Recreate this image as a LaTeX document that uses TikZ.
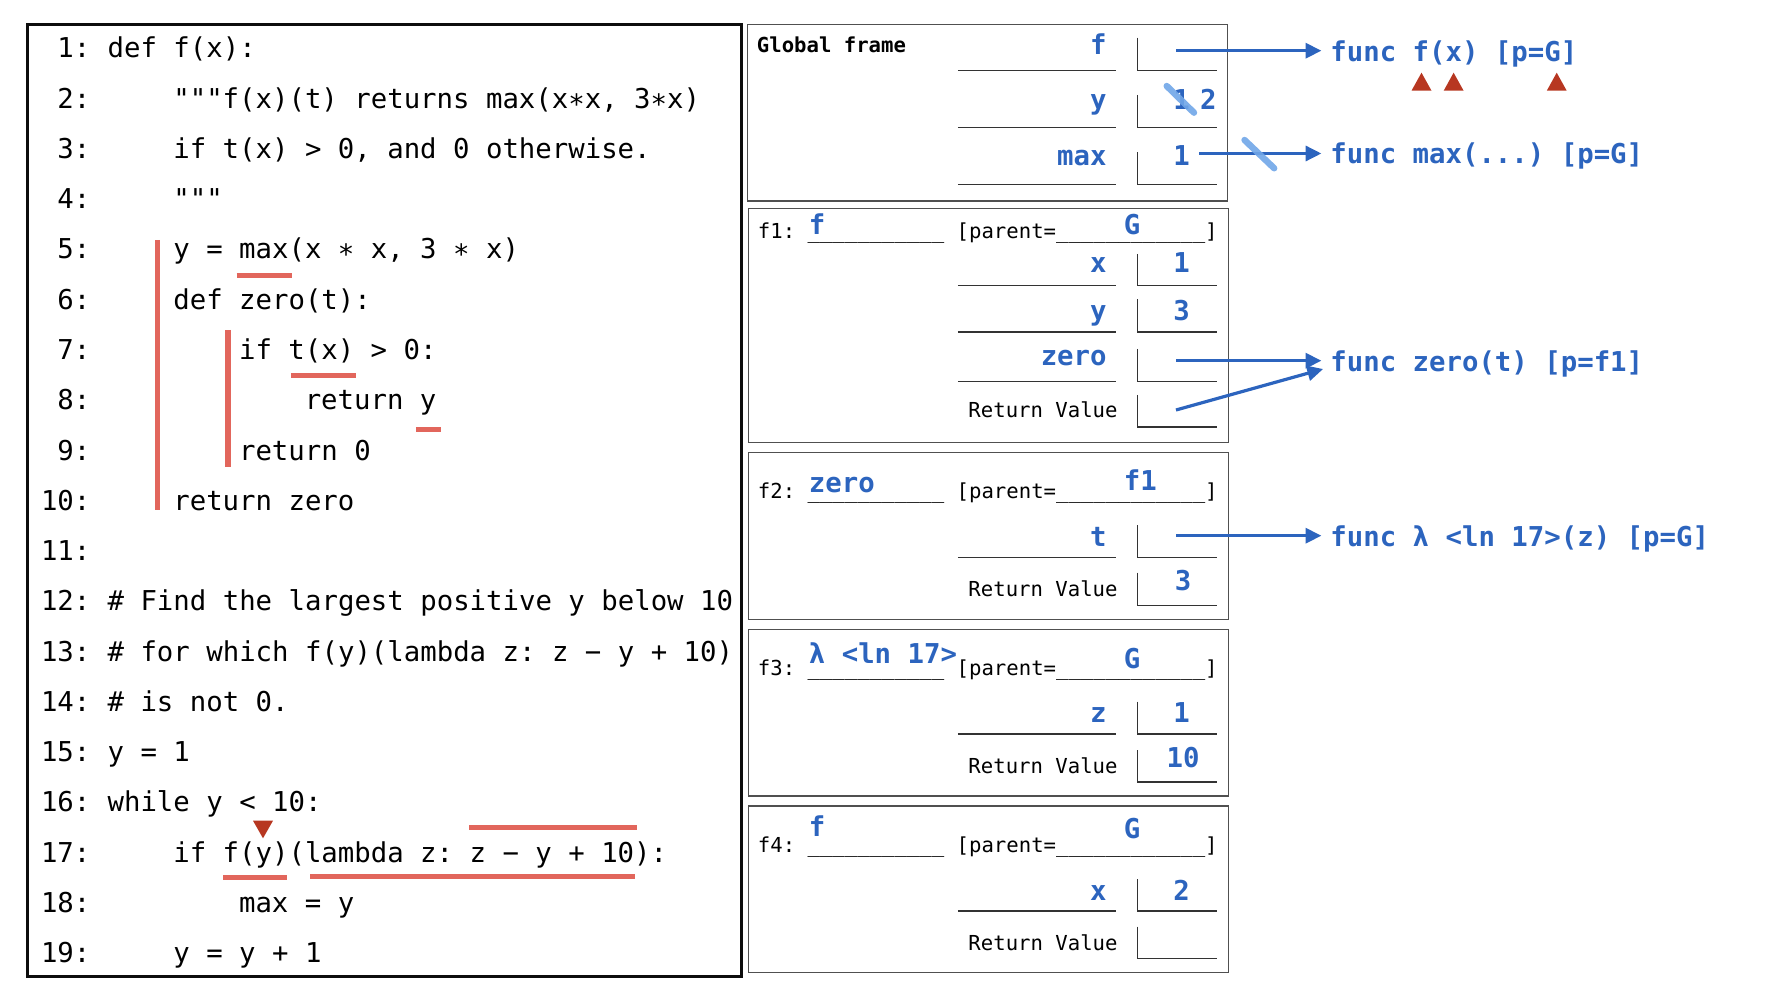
\documentclass[tikz,border=0pt]{standalone}
\usepackage{fontspec}
\usetikzlibrary{arrows.meta}
\newfontfamily\codefont{DejaVu Sans Mono}
\definecolor{codeblue}{RGB}{44,100,190}
\definecolor{markred}{RGB}{226,102,92}
\definecolor{tipred}{RGB}{183,55,33}
\definecolor{scratchblue}{RGB}{112,166,232}
\definecolor{framegray}{RGB}{80,80,80}
\newcommand\cdsize{\fontsize{13.67}{16}\selectfont}
\newcommand\smsize{\fontsize{10.32}{12}\selectfont}
\tikzset{
  lno/.style={anchor=base east, inner sep=0pt, font=\codefont\cdsize},
  code/.style={anchor=base west, inner sep=0pt, font=\codefont\cdsize},
  nm/.style={anchor=base east, inner sep=0pt, font=\codefont\cdsize\bfseries, text=codeblue},
  val/.style={anchor=base, inner sep=0pt, font=\codefont\cdsize\bfseries, text=codeblue},
  ttl/.style={anchor=base west, inner sep=0pt, font=\codefont\smsize},
  rvl/.style={anchor=base east, inner sep=0pt, font=\codefont\smsize},
  btl/.style={anchor=base west, inner sep=0pt, font=\codefont\cdsize\bfseries, text=codeblue},
  fnl/.style={anchor=base west, inner sep=0pt, font=\codefont\cdsize\bfseries, text=codeblue},
  frm/.style={draw=framegray, line width=0.65pt},
  rule/.style={draw=black!80, line width=0.55pt},
  ptr/.style={draw=codeblue, line width=1.6pt, -{Triangle[length=7.9pt,width=7.5pt]}},
  redstroke/.style={draw=markred, line width=2.7pt},
  scratch/.style={draw=scratchblue, line width=3.2pt, line cap=round, opacity=0.9},
  tri/.style={fill=tipred, draw=none},
}
% one line of source code: number, column, text
\newcommand\cl[3]{%
  \node[lno] (n#1) at (90.8,{58+(#1-1)*50.25}) {#1:};
  \node[code] (c#1) at ({41.5+#2*16.43},{58+(#1-1)*50.25}) {#3};}
% one binding row: id, name baseline, rule y, box top, name, value
\newcommand\bindrow[6]{%
  \node[nm] (#1n) at (1107,#2) {#5};
  \draw[rule] (957.8,#3) -- (1116.2,#3);
  \draw[rule] (1137.2,#4) -- (1137.2,#3) -- (1217.2,#3);
  \node[val] (#1v) at (1181.7,#2) {#6};}
% return value row: id, label baseline, value baseline, box top, box bottom, value
\newcommand\retrow[6]{%
  \node[rvl] (#1n) at (1118,#2) {Return Value};
  \draw[rule] (1137.2,#4) -- (1137.2,#5) -- (1217.2,#5);
  \node[val] (#1v) at (1183,#3) {#6};}
\begin{document}
\frenchspacing
\begin{tikzpicture}[x=0.5pt,y=-0.5pt]
\useasboundingbox (0,0) rectangle (1768,1000);

% ---------- source code panel ----------
\draw[line width=1.5pt, draw=black!95] (27.6,24.3) rectangle (741.6,976);
\cl{1}{4}{def f(x):}
\cl{2}{8}{"""f(x)(t) returns max(x∗x, 3∗x)}
\cl{3}{8}{if t(x) > 0, and 0 otherwise.}
\cl{4}{8}{"""}
\cl{5}{8}{y = max(x ∗ x, 3 ∗ x)}
\cl{6}{8}{def zero(t):}
\cl{7}{12}{if t(x) > 0:}
\cl{8}{16}{return y}
\cl{9}{12}{return 0}
\cl{10}{8}{return zero}
\cl{11}{4}{}
\cl{12}{4}{\# Find the largest positive y below 10}
\cl{13}{4}{\# for which f(y)(lambda z: z − y + 10)}
\cl{14}{4}{\# is not 0.}
\cl{15}{4}{y = 1}
\cl{16}{4}{while y < 10:}
\cl{17}{8}{if f(y)(lambda z: z − y + 10):}
\cl{18}{12}{max = y}
\cl{19}{8}{y = y + 1}

% hand-drawn marks on the code
\draw[redstroke] (157.5,240) -- (157.5,510);
\draw[redstroke] (227.8,330) -- (227.8,466.7);
\draw[redstroke] (236.5,275.3) -- (292.3,275.3);
\draw[redstroke] (290.8,375.7) -- (356.3,375.7);
\draw[redstroke] (415.9,429.3) -- (441.1,429.3);
\draw[redstroke] (223,877.7) -- (287.4,877.7);
\draw[redstroke] (310.2,876.7) -- (635,876.7);
\draw[redstroke] (469.2,827.7) -- (636.5,827.7);
\fill[tri] (253,820.7) -- (273,820.7) -- (263,838.3) -- cycle;

% ---------- global frame ----------
\draw[frm] (747.3,24.3) rectangle (1227.3,201);
\node[ttl, font=\codefont\smsize\bfseries] (gt) at (756.5,52.7) {Global frame};
\bindrow{gf}{55}{70.7}{37.7}{f}{}
\bindrow{gy}{109.3}{127.7}{95}{y}{1}
\node[val] (gy2) at (1208.3,109.3) {2};
\bindrow{gm}{165.7}{184.3}{152.3}{max}{1}

% ---------- f1 ----------
\draw[frm] (748.3,208.3) rectangle (1228.7,442.7);
\node[ttl] (at) at (757.5,238.3) {f1: \_\_\_\_\_\_\_\_\_\_\_ [parent=\_\_\_\_\_\_\_\_\_\_\_\_]};
\node[btl] (atn) at (808.5,235) {f};
\node[btl] (atp) at (1123.5,235) {G};
\bindrow{ax}{272.7}{285.3}{254}{x}{1}
\bindrow{ay}{320.7}{332}{299.3}{y}{3}
\bindrow{az}{365}{381.7}{349}{zero}{}
\retrow{ar}{417.7}{417.7}{395}{427}{}

% ---------- f2 ----------
\draw[frm] (748.3,452.7) rectangle (1228.7,619.3);
\node[ttl] (bt) at (757.5,498.3) {f2: \_\_\_\_\_\_\_\_\_\_\_ [parent=\_\_\_\_\_\_\_\_\_\_\_\_]};
\node[btl] (btn) at (808.5,492.3) {zero};
\node[btl] (btp) at (1123.5,490.7) {f1};
\bindrow{bt}{546.7}{557.3}{525}{t}{}
\retrow{br}{596.7}{590}{572.7}{605.3}{3}

% ---------- f3 ----------
\draw[frm] (748.3,629.3) rectangle (1228.7,796);
\node[ttl] (ct) at (757.5,675) {f3: \_\_\_\_\_\_\_\_\_\_\_ [parent=\_\_\_\_\_\_\_\_\_\_\_\_]};
\node[btl] (ctn) at (808.5,663.3) {λ <ln 17>};
\node[btl] (ctp) at (1123.5,668.3) {G};
\bindrow{cz}{722.7}{734}{701.7}{z}{1}
\retrow{cr}{773.3}{767.7}{750}{782}{10}

% ---------- f4 ----------
\draw[frm] (748.3,806) rectangle (1228.7,972.7);
\node[ttl] (dt) at (757.5,852.7) {f4: \_\_\_\_\_\_\_\_\_\_\_ [parent=\_\_\_\_\_\_\_\_\_\_\_\_]};
\node[btl] (dtn) at (808.5,836.7) {f};
\node[btl] (dtp) at (1123.5,838.3) {G};
\bindrow{dx}{900}{911}{879}{x}{2}
\retrow{dr}{950}{950}{926.7}{958.7}{}

% ---------- function objects ----------
\node[fnl] (fx) at (1330,61.2) {func f(x) [p=G]};
\node[fnl] (fm) at (1330,164) {func max(...) [p=G]};
\node[fnl] (fz) at (1330,371.2) {func zero(t) [p=f1]};
\node[fnl] (fl) at (1330,546.2) {func λ <ln 17>(z) [p=G]};

\fill[tri] (1411.5,90.7) -- (1431.5,90.7) -- (1421.5,72.7) -- cycle;
\fill[tri] (1443.7,90.7) -- (1463.6,90.7) -- (1453.6,72.7) -- cycle;
\fill[tri] (1546.8,90.7) -- (1566.7,90.7) -- (1556.7,72.7) -- cycle;

% ---------- pointers ----------
\coordinate (gfp) at (1176,50.7);
\coordinate (gmp) at (1199.3,153.5);
\coordinate (azp) at (1176,360.7);
\coordinate (arp) at (1176,410);
\coordinate (btp2) at (1176,535.7);
\draw[ptr] (gfp) -- ([shift={(-8.6,-10.5)}]fx.base west);
\draw[ptr] (gmp) -- ([shift={(-8.6,-10.5)}]fm.base west);
\draw[ptr] (azp) -- ([shift={(-8.6,-10.5)}]fz.base west);
\draw[ptr] (arp) -- ([shift={(-6.9,-2.2)}]fz.base west);
\draw[ptr] (btp2) -- ([shift={(-8.6,-10.5)}]fl.base west);

% crossed-out values
\draw[scratch] (1166.7,86) -- (1194,112.7);
\draw[scratch] (1244.5,140) -- (1274.2,168.3);
\end{tikzpicture}
\end{document}
